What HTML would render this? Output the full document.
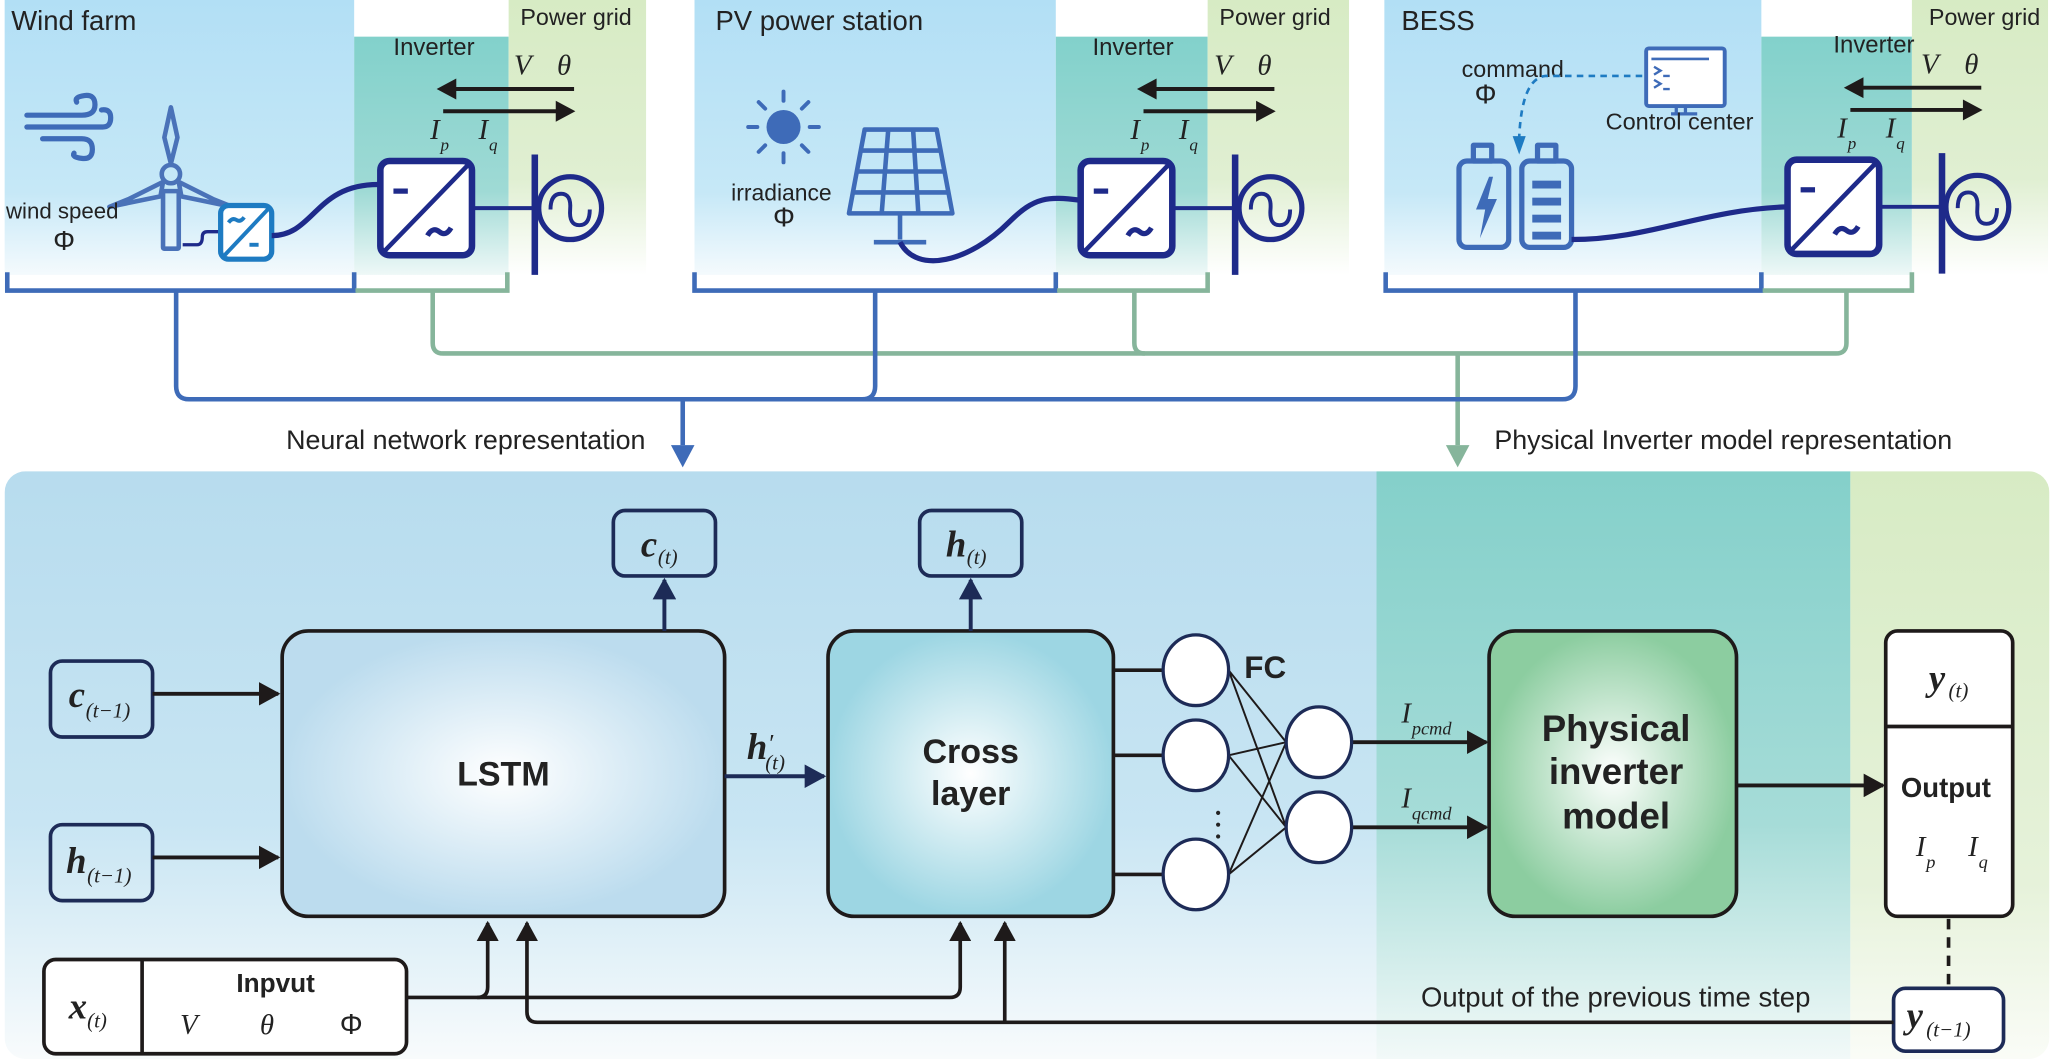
<!DOCTYPE html>
<html><head><meta charset="utf-8"><style>html,body{margin:0;padding:0;background:#fff}svg{display:block}text{font-family:"Liberation Sans",sans-serif}.m{font-family:"Liberation Serif",serif;font-style:italic}</style></head><body>
<svg width="2054" height="1059" viewBox="0 0 1568 809" xmlns="http://www.w3.org/2000/svg">
<defs>
<linearGradient id="gb" x1="0" y1="0" x2="0" y2="1"><stop offset="0" stop-color="#b2dff5"/><stop offset="0.7" stop-color="#c6e8f7"/><stop offset="1" stop-color="#f4fafd"/></linearGradient>
<linearGradient id="gt" x1="0" y1="0" x2="0" y2="1"><stop offset="0" stop-color="#82d1cb"/><stop offset="0.65" stop-color="#9fdad5"/><stop offset="1" stop-color="#eef8f7"/></linearGradient>
<linearGradient id="gg" x1="0" y1="0" x2="0" y2="1"><stop offset="0" stop-color="#d7ebc4"/><stop offset="0.65" stop-color="#e0efd2"/><stop offset="1" stop-color="#ffffff"/></linearGradient>
<linearGradient id="bb" x1="0" y1="0" x2="0" y2="1"><stop offset="0" stop-color="#b7dcee"/><stop offset="0.6" stop-color="#c8e5f3"/><stop offset="1" stop-color="#f8fbfc"/></linearGradient>
<linearGradient id="bt" x1="0" y1="0" x2="0" y2="1"><stop offset="0" stop-color="#84d0ca"/><stop offset="0.6" stop-color="#a6dcd8"/><stop offset="1" stop-color="#f2f9f8"/></linearGradient>
<linearGradient id="bg2" x1="0" y1="0" x2="0" y2="1"><stop offset="0" stop-color="#d7ebc4"/><stop offset="0.7" stop-color="#e6f2da"/><stop offset="1" stop-color="#fafcf7"/></linearGradient>
<radialGradient id="rl"><stop offset="0" stop-color="#ffffff"/><stop offset="1" stop-color="#bcdcee"/></radialGradient>
<radialGradient id="rc"><stop offset="0" stop-color="#ffffff"/><stop offset="1" stop-color="#9dd6e3"/></radialGradient>
<radialGradient id="rp"><stop offset="0" stop-color="#ffffff"/><stop offset="1" stop-color="#8ccda0"/></radialGradient>
<marker id="ak" viewBox="0 0 10 10" refX="9" refY="5" markerWidth="5.5" markerHeight="6" orient="auto" markerUnits="strokeWidth" preserveAspectRatio="none"><path d="M0,0L10,5L0,10z" fill="#1e1a1a"/></marker>
<marker id="an" viewBox="0 0 10 10" refX="9" refY="5" markerWidth="5.5" markerHeight="6" orient="auto" markerUnits="strokeWidth" preserveAspectRatio="none"><path d="M0,0L10,5L0,10z" fill="#1d2b57"/></marker>
</defs>

<!-- TOP PANELS -->
<rect x="3" y="0" width="267" height="210" fill="url(#gb)"/>
<rect x="270" y="28" width="118" height="182" fill="url(#gt)"/>
<rect x="388" y="0" width="105" height="210" fill="url(#gg)"/>
<rect x="530" y="0" width="276" height="210" fill="url(#gb)"/>
<rect x="806" y="28" width="116" height="182" fill="url(#gt)"/>
<rect x="922" y="0" width="108" height="210" fill="url(#gg)"/>
<rect x="1057" y="0" width="288" height="210" fill="url(#gb)"/>
<rect x="1345" y="28" width="115" height="182" fill="url(#gt)"/>
<rect x="1460" y="0" width="104" height="210" fill="url(#gg)"/>

<!-- brackets & connectors -->
<g fill="none" stroke-width="3.5">
<path d="M5,208V222H270V208" stroke="#3e6bb8"/>
<path d="M271,222H387V208" stroke="#86b59b"/>
<path d="M530,208V222H806V208" stroke="#3e6bb8"/>
<path d="M807,222H922V208" stroke="#86b59b"/>
<path d="M1058,208V222H1345V208" stroke="#3e6bb8"/>
<path d="M1346,222H1460V208" stroke="#86b59b"/>
<path d="M330,222V262Q330,270 338,270H1402Q1410,270 1410,262V222" stroke="#86b59b"/>
<path d="M866,222V262Q866,270 874,270" stroke="#86b59b"/>
<path d="M1113,270V340" stroke="#86b59b"/>
<path d="M134,222V295Q134,305 144,305H1193Q1203,305 1203,295V222" stroke="#3e6bb8"/>
<path d="M668,222V295Q668,305 658,305" stroke="#3e6bb8"/>
<path d="M521,305V340" stroke="#3e6bb8"/>
</g>
<path d="M512,340H530L521,357z" fill="#3e6bb8"/>
<path d="M1104,340H1122L1113,357z" fill="#86b59b"/>
<text x="218" y="343" font-size="20.5" fill="#222">Neural network representation</text>
<text x="1141" y="343" font-size="20.5" fill="#222">Physical Inverter model representation</text>

<!-- common top labels -->
<text x="8" y="23" font-size="21" fill="#222">Wind farm</text>
<text x="546" y="23" font-size="21" fill="#222">PV power station</text>
<text x="1070" y="23" font-size="21" fill="#222">BESS</text>
<g font-size="17.8" fill="#222">
<text x="397" y="19">Power grid</text><text x="931" y="19">Power grid</text><text x="1473" y="19">Power grid</text>
<text x="300" y="42" font-size="18.3">Inverter</text><text x="834" y="42" font-size="18.3">Inverter</text><text x="1400" y="40" font-size="18.3">Inverter</text>
</g>

<!-- inverter sets -->
<g id="inv">
<text class="m" x="392" y="57" font-size="22" fill="#222">V</text>
<text class="m" x="425" y="57" font-size="22" fill="#222">θ</text>
<path d="M426,85H338" stroke="#1e1a1a" stroke-width="3"/>
<path d="M439,85L424,77V93z" fill="#1e1a1a"/>
<path d="M438,68H345" stroke="#1e1a1a" stroke-width="3"/>
<path d="M333,68L348,60V76z" fill="#1e1a1a"/>
<text class="m" x="328" y="106" font-size="22" fill="#222">I</text><text class="m" x="336" y="115" font-size="13" fill="#222">p</text>
<text class="m" x="365" y="106" font-size="22" fill="#222">I</text><text class="m" x="373" y="115" font-size="13" fill="#222">q</text>
<rect x="290" y="123" width="70" height="72" rx="7" fill="#fff" stroke="#1e2a8a" stroke-width="5"/>
<path d="M293,192L357,126" stroke="#1e2a8a" stroke-width="3.5"/>
<path d="M300,146h11" stroke="#1e2a8a" stroke-width="4"/>
<path d="M326,180q4,-7 9,-3t9,-3" fill="none" stroke="#1e2a8a" stroke-width="4"/>
<path d="M360,159H408" stroke="#1e2a8a" stroke-width="3"/>
<path d="M408,118V210" stroke="#1e2a8a" stroke-width="5"/>
<circle cx="435" cy="159" r="24" fill="none" stroke="#1e2a8a" stroke-width="4"/>
<path d="M420,160q0,-12 8,-12t7,12t7,12t8,-12" fill="none" stroke="#1e2a8a" stroke-width="3"/>
</g>
<use href="#inv" x="535"/>
<use href="#inv" x="1075" y="-1"/>

<!-- wind farm icons -->
<g fill="none" stroke="#3e6bb8" stroke-width="4" stroke-linecap="round">
<path d="M20,88H62q10,0 10,-8t-8,-7t-6,5"/>
<path d="M20,97H78q6,0 6,-7t-7,-6"/>
<path d="M32,106H62q8,0 8,8t-8,7t-6,-4"/>
</g>
<g fill="none" stroke="#4a72b8" stroke-width="3.5" stroke-linejoin="round">
<rect x="124" y="146" width="12" height="44" rx="1"/>
<circle cx="130" cy="133" r="7"/>
<path d="M130,125L125,105L130,82L135,105z"/>
<path d="M124,139L98,152L83,158L122,150z"/>
<path d="M136,139L162,152L177,158L138,150z"/>
</g>
<path d="M139,187H150Q154,187 154,181Q154,177 158,177H168" fill="none" stroke="#1e2a8a" stroke-width="2.5"/>
<rect x="168" y="157" width="39" height="41" rx="6" fill="#fff" stroke="#1e7bc2" stroke-width="4"/>
<path d="M171,195L204,160" stroke="#1e7bc2" stroke-width="3"/>
<path d="M174,170q3,-4 6,-2t6,-2" fill="none" stroke="#1e7bc2" stroke-width="3"/>
<path d="M190,187h7" stroke="#1e7bc2" stroke-width="3"/>
<path d="M207,180C240,180 240,140 290,141" fill="none" stroke="#1e2a8a" stroke-width="4"/>
<text x="4" y="167" font-size="17" fill="#222">wind speed</text>
<text x="40" y="191" font-size="21" fill="#222" font-family="Liberation Serif">Φ</text>

<!-- PV icons -->
<circle cx="598" cy="97" r="13" fill="#3e6bb8"/>
<g stroke="#3e6bb8" stroke-width="3" stroke-linecap="round">
<path d="M598,70v7M598,117v7M571,97h7M618,97h7M579,78l5,5M612,111l5,5M579,116l5,-5M612,83l5,-5"/>
</g>
<g fill="none" stroke="#3e6bb8" stroke-width="3.5" stroke-linejoin="round">
<path d="M660,99H715L727,163H648z"/>
<path d="M678,99L673,163M697,99L701,163M657,115H718M654,131H721M651,147H724"/>
<path d="M687,163V183M667,185H707"/>
</g>
<path d="M687,185C700,210 740,200 770,170C790,150 800,150 825,153" fill="none" stroke="#1e2a8a" stroke-width="4"/>
<text x="558" y="153" font-size="17.5" fill="#222">irradiance</text>
<text x="590" y="173" font-size="21" fill="#222" font-family="Liberation Serif">Φ</text>

<!-- BESS icons -->
<g fill="none" stroke="#3e6bb8" stroke-width="4" stroke-linejoin="round">
<rect x="1114" y="123" width="38" height="66" rx="6"/>
<rect x="1125" y="111" width="14" height="12"/>
<rect x="1162" y="123" width="38" height="66" rx="6"/>
<rect x="1174" y="111" width="14" height="12"/>
</g>
<path d="M1137,135L1127,160H1134L1130,182L1143,152H1136L1140,135z" fill="#3e6bb8"/>
<g fill="#3e6bb8"><rect x="1170" y="138" width="22" height="6"/><rect x="1170" y="151" width="22" height="6"/><rect x="1170" y="164" width="22" height="6"/><rect x="1170" y="177" width="22" height="6"/></g>
<path d="M1200,183C1260,183 1300,160 1365,158" fill="none" stroke="#1e2a8a" stroke-width="4"/>
<rect x="1257" y="37" width="60" height="44" rx="2" fill="#fff" stroke="#3e6bb8" stroke-width="3"/>
<path d="M1261,45H1305" stroke="#3e6bb8" stroke-width="2"/>
<path d="M1263,51l5,3l-5,3M1270,58h5M1263,61l5,3l-5,3M1270,68h5" fill="none" stroke="#3e6bb8" stroke-width="1.8"/>
<path d="M1280,81v6M1276,87h20M1287,81v6" stroke="#3e6bb8" stroke-width="2.5"/>
<text x="1226" y="99" font-size="18" fill="#222">Control center</text>
<text x="1116" y="59" font-size="17.8" fill="#222">command</text>
<text x="1126" y="79" font-size="21" fill="#222" font-family="Liberation Serif">Φ</text>
<path d="M1254,58H1180Q1162,60 1160,105" fill="none" stroke="#1e7bc2" stroke-width="2" stroke-dasharray="5,4"/>
<path d="M1155,104L1165,104L1160,118z" fill="#1e7bc2"/>

<!-- BOTTOM PANEL -->
<clipPath id="cp"><rect x="3" y="360" width="1562" height="449" rx="16"/></clipPath>
<g clip-path="url(#cp)">
<rect x="3" y="360" width="1048" height="449" fill="url(#bb)"/>
<rect x="1051" y="360" width="362" height="449" fill="url(#bt)"/>
<rect x="1413" y="360" width="152" height="449" fill="url(#bg2)"/>
</g>

<!-- main blocks -->
<rect x="215" y="482" width="338" height="218" rx="20" fill="url(#rl)" stroke="#1e1a1a" stroke-width="2.8"/>
<text x="384" y="600" font-size="26" font-weight="bold" text-anchor="middle" fill="#222">LSTM</text>
<rect x="632" y="482" width="218" height="218" rx="20" fill="url(#rc)" stroke="#1e1a1a" stroke-width="2.8"/>
<text x="741" y="583" font-size="26" font-weight="bold" text-anchor="middle" fill="#222">Cross</text>
<text x="741" y="615" font-size="26" font-weight="bold" text-anchor="middle" fill="#222">layer</text>
<rect x="1137" y="482" width="189" height="218" rx="20" fill="url(#rp)" stroke="#1e1a1a" stroke-width="2.8"/>
<text x="1234" y="566" font-size="28" font-weight="bold" text-anchor="middle" fill="#222">Physical</text>
<text x="1234" y="599" font-size="28" font-weight="bold" text-anchor="middle" fill="#222">inverter</text>
<text x="1234" y="633" font-size="28" font-weight="bold" text-anchor="middle" fill="#222">model</text>

<!-- small boxes -->
<g fill="#fff" fill-opacity="0" stroke="#1d2b57" stroke-width="2.8">
<rect x="468" y="390" width="78" height="50" rx="9"/>
<rect x="702" y="390" width="78" height="50" rx="9"/>
<rect x="38" y="505" width="78" height="58" rx="9"/>
<rect x="38" y="630" width="78" height="58" rx="9"/>
</g>
<rect x="1446" y="755" width="84" height="48" rx="9" fill="#fff" stroke="#1d2b57" stroke-width="2.8"/>
<g fill="#222">
<text class="m" x="489" y="425" font-size="28" font-weight="bold">c</text><text class="m" x="502" y="431" font-size="16">(t)</text>
<text class="m" x="722" y="425" font-size="28" font-weight="bold">h</text><text class="m" x="738" y="431" font-size="16">(t)</text>
<text class="m" x="52" y="540" font-size="28" font-weight="bold">c</text><text class="m" x="65" y="548" font-size="16">(t−1)</text>
<text class="m" x="50" y="667" font-size="28" font-weight="bold">h</text><text class="m" x="66" y="674" font-size="16">(t−1)</text>
<text class="m" x="1456" y="785" font-size="28" font-weight="bold">y</text><text class="m" x="1471" y="792" font-size="16">(t−1)</text>
<text class="m" x="570" y="580" font-size="28" font-weight="bold">h</text><text class="m" x="586" y="574" font-size="19">′</text><text class="m" x="584" y="588" font-size="16">(t)</text>
</g>

<!-- arrows -->
<g stroke="#1e1a1a" stroke-width="3" fill="none">
<path d="M116,530H212" marker-end="url(#ak)"/>
<path d="M116,655H212" marker-end="url(#ak)"/>
<path d="M1032,567H1135" marker-end="url(#ak)"/>
<path d="M1032,632H1135" marker-end="url(#ak)"/>
<path d="M1326,600H1438" marker-end="url(#ak)"/>
</g>
<g stroke="#1d2b57" stroke-width="3" fill="none">
<path d="M507,482V443" marker-end="url(#an)"/>
<path d="M741,482V443" marker-end="url(#an)"/>
<path d="M553,593H629" marker-end="url(#an)"/>
</g>
<!-- bottom feedback -->
<g stroke="#1e1a1a" stroke-width="2.8" fill="none">
<path d="M310,762H725Q733,762 733,754V705" marker-end="url(#ak)"/>
<path d="M364,762Q372,762 372,754V705" marker-end="url(#ak)"/>
<path d="M1446,781H410Q402,781 402,773V705" marker-end="url(#ak)"/>
<path d="M767,781V705" marker-end="url(#ak)"/>
<path d="M1488,702V755" stroke-dasharray="8,6"/>
</g>

<!-- FC -->
<g stroke="#1e1a1a" stroke-width="2.8"><path d="M850,512H888M850,577H888M850,668H888"/></g>
<g stroke="#1e1a1a" stroke-width="1.5">
<path d="M938,512L982,567M938,512L982,632M938,577L982,567M938,577L982,632M938,668L982,567M938,668L982,632"/>
</g>
<g fill="#fff" stroke="#1d2b57" stroke-width="2.5">
<ellipse cx="913" cy="512" rx="25" ry="27"/><ellipse cx="913" cy="577" rx="25" ry="27"/><ellipse cx="913" cy="668" rx="25" ry="27"/>
<ellipse cx="1007" cy="567" rx="25" ry="27"/><ellipse cx="1007" cy="632" rx="25" ry="27"/>
</g>
<g fill="#222"><circle cx="930" cy="621" r="1.6"/><circle cx="930" cy="630" r="1.6"/><circle cx="930" cy="639" r="1.6"/></g>
<text x="950" y="518" font-size="24" font-weight="bold" fill="#222">FC</text>
<g fill="#222">
<text class="m" x="1070" y="552" font-size="22">I</text><text class="m" x="1078" y="561" font-size="14">pcmd</text>
<text class="m" x="1070" y="617" font-size="22">I</text><text class="m" x="1078" y="626" font-size="14">qcmd</text>
</g>

<!-- output box -->
<rect x="1440" y="482" width="97" height="218" rx="9" fill="#fff" stroke="#1e1a1a" stroke-width="2.8"/>
<path d="M1440,555H1537" stroke="#1e1a1a" stroke-width="2.8"/>
<text class="m" x="1473" y="527" font-size="28" font-weight="bold" fill="#222">y</text><text class="m" x="1488" y="533" font-size="16" fill="#222">(t)</text>
<text x="1486" y="609" font-size="21" font-weight="bold" text-anchor="middle" fill="#222">Output</text>
<text class="m" x="1463" y="654" font-size="22" fill="#222">I</text><text class="m" x="1471" y="663" font-size="14" fill="#222">p</text>
<text class="m" x="1503" y="654" font-size="22" fill="#222">I</text><text class="m" x="1511" y="663" font-size="14" fill="#222">q</text>

<!-- input box -->
<rect x="33" y="733" width="277" height="72" rx="9" fill="#fff" stroke="#1e1a1a" stroke-width="2.8"/>
<path d="M108,733V805" stroke="#1e1a1a" stroke-width="2.8"/>
<text class="m" x="52" y="778" font-size="28" font-weight="bold" fill="#222">x</text><text class="m" x="66" y="785" font-size="16" fill="#222">(t)</text>
<text x="210" y="758" font-size="20" font-weight="bold" text-anchor="middle" fill="#222">Inpvut</text>
<text class="m" x="137" y="790" font-size="22" fill="#222">V</text>
<text class="m" x="198" y="790" font-size="22" fill="#222">θ</text>
<text x="259" y="790" font-size="22" fill="#222" font-family="Liberation Serif">Φ</text>
<text x="1085" y="769" font-size="21" fill="#222">Output of the previous time step</text>
</svg>
</body></html>
